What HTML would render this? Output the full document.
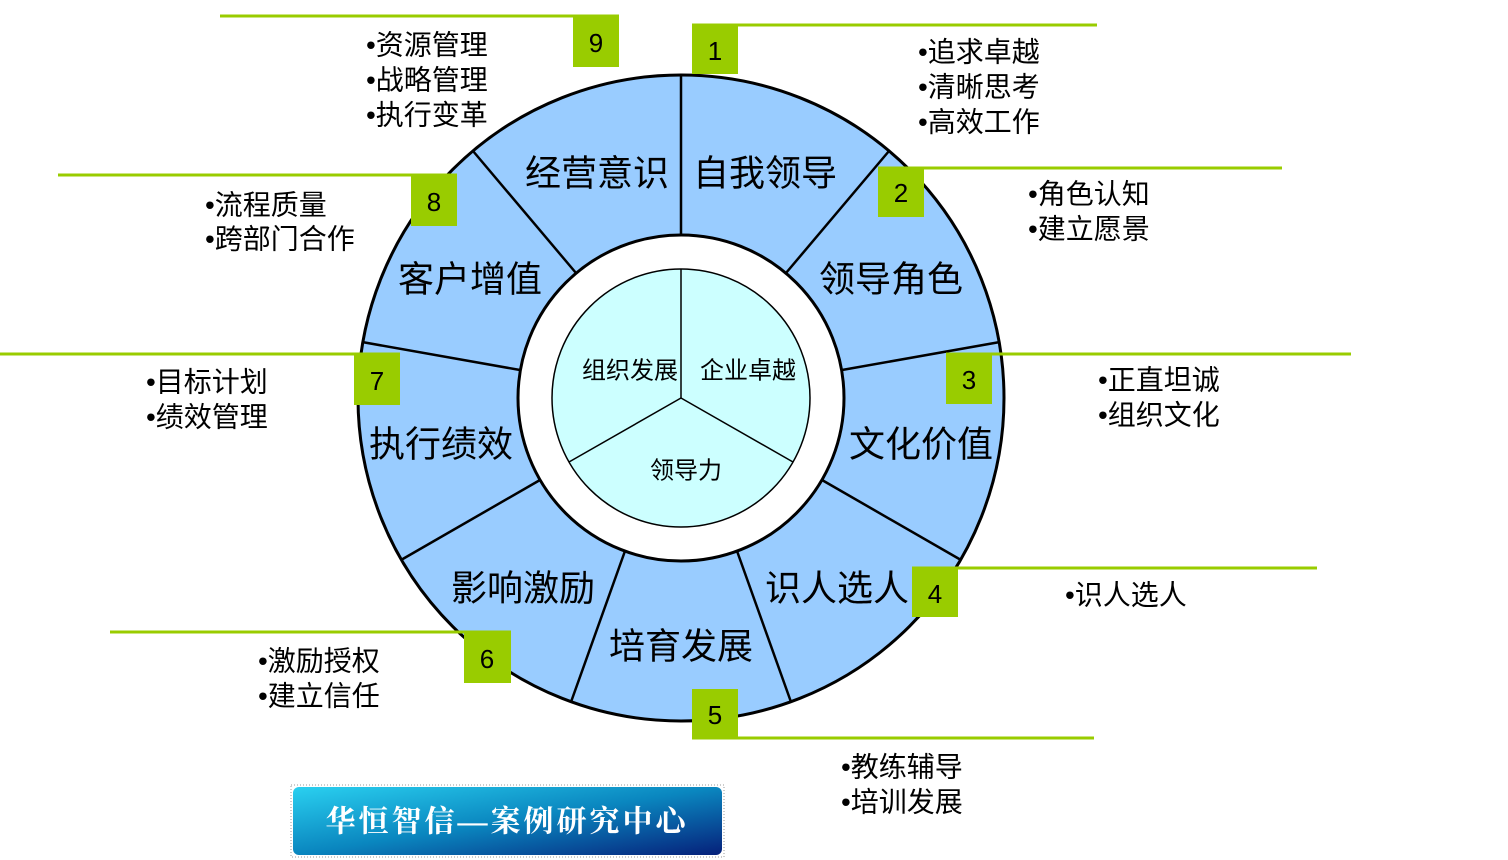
<!DOCTYPE html>
<html><head><meta charset="utf-8"><style>
html,body{margin:0;padding:0;background:#fff;}
svg{display:block;}
text{font-family:"Liberation Sans","Noto Sans CJK SC",sans-serif;fill:#000;}
</style></head><body>
<svg width="1508" height="860" viewBox="0 0 1508 860">
<defs>
<linearGradient id="bg" x1="0" y1="0" x2="1" y2="1">
<stop offset="0" stop-color="#2ad0f0"/><stop offset="0.5" stop-color="#0a86bf"/><stop offset="1" stop-color="#06207a"/>
</linearGradient>
</defs>
<circle cx="681" cy="398" r="323" fill="#99ccff" stroke="#000" stroke-width="3"/>
<circle cx="681" cy="398" r="163" fill="#fff" stroke="#000" stroke-width="3"/>
<circle cx="681" cy="398" r="129" fill="#ccffff" stroke="#000" stroke-width="1.5"/>
<g stroke="#000" stroke-width="2.5">
<line x1="681" y1="235" x2="681" y2="75"/>
<line x1="786" y1="273" x2="889" y2="151"/>
<line x1="842" y1="370" x2="1000" y2="342"/>
<line x1="822" y1="480" x2="961" y2="560"/>
<line x1="737" y1="551" x2="791" y2="702"/>
<line x1="625" y1="551" x2="571" y2="702"/>
<line x1="540" y1="480" x2="401" y2="560"/>
<line x1="520" y1="370" x2="362" y2="342"/>
<line x1="576" y1="273" x2="473" y2="151"/>
</g>
<g stroke="#000" stroke-width="1.5">
<line x1="681" y1="398" x2="681" y2="269"/>
<line x1="681" y1="398" x2="793" y2="462"/>
<line x1="681" y1="398" x2="569" y2="462"/>
</g>
<g font-size="36" text-anchor="middle" dominant-baseline="central">
<text x="765" y="173">自我领导</text>
<text x="597" y="173">经营意识</text>
<text x="891" y="279">领导角色</text>
<text x="470" y="279">客户增值</text>
<text x="921" y="444">文化价值</text>
<text x="441" y="444">执行绩效</text>
<text x="837" y="588">识人选人</text>
<text x="523" y="588">影响激励</text>
<text x="681" y="646">培育发展</text>
</g>
<g font-size="24" text-anchor="middle" dominant-baseline="central">
<text x="630" y="371">组织发展</text>
<text x="748" y="371">企业卓越</text>
<text x="686" y="471">领导力</text>
</g>
<g stroke="#99cc00" stroke-width="3">
<line x1="220" y1="16" x2="619" y2="16"/>
<line x1="692" y1="25" x2="1097" y2="25"/>
<line x1="878" y1="168" x2="1282" y2="168"/>
<line x1="946" y1="354" x2="1351" y2="354"/>
<line x1="912" y1="568" x2="1317" y2="568"/>
<line x1="692" y1="738" x2="1094" y2="738"/>
<line x1="110" y1="632" x2="511" y2="632"/>
<line x1="0" y1="354" x2="400" y2="354"/>
<line x1="58" y1="175" x2="457" y2="175"/>
</g>
<g fill="#99cc00">
<rect x="573" y="16" width="46" height="51"/>
<rect x="692" y="25" width="46" height="49"/>
<rect x="878" y="168" width="46" height="49"/>
<rect x="946" y="354" width="46" height="50"/>
<rect x="912" y="568" width="46" height="49"/>
<rect x="692" y="689" width="46" height="49"/>
<rect x="464" y="632" width="47" height="51"/>
<rect x="354" y="354" width="46" height="51"/>
<rect x="411" y="175" width="46" height="51"/>
</g>
<g font-size="26" text-anchor="middle" dominant-baseline="central">
<text x="596" y="43">9</text>
<text x="715" y="51">1</text>
<text x="901" y="193">2</text>
<text x="969" y="380">3</text>
<text x="935" y="594">4</text>
<text x="715" y="715">5</text>
<text x="487" y="659">6</text>
<text x="377" y="381">7</text>
<text x="434" y="202">8</text>
</g>
<g font-size="28" dominant-baseline="central">
<text x="366" y="45">•资源管理</text>
<text x="366" y="80">•战略管理</text>
<text x="366" y="115">•执行变革</text>
<text x="918" y="52">•追求卓越</text>
<text x="918" y="87">•清晰思考</text>
<text x="918" y="122">•高效工作</text>
<text x="1028" y="194">•角色认知</text>
<text x="1028" y="229">•建立愿景</text>
<text x="205" y="205">•流程质量</text>
<text x="205" y="239">•跨部门合作</text>
<text x="146" y="382">•目标计划</text>
<text x="146" y="417">•绩效管理</text>
<text x="1098" y="380">•正直坦诚</text>
<text x="1098" y="415">•组织文化</text>
<text x="1065" y="595">•识人选人</text>
<text x="258" y="661">•激励授权</text>
<text x="258" y="696">•建立信任</text>
<text x="841" y="767">•教练辅导</text>
<text x="841" y="802">•培训发展</text>
</g>
<rect x="291" y="785" width="433" height="72" fill="none" stroke="#999" stroke-width="1" stroke-dasharray="1,2"/>
<rect x="293" y="787" width="429" height="68" rx="6" fill="url(#bg)"/>
<text x="507" y="822" font-size="30" font-weight="bold" text-anchor="middle" dominant-baseline="central" letter-spacing="3" style="fill:#fff;font-family:'Liberation Serif','Noto Serif CJK SC',serif">华恒智信—案例研究中心</text>
</svg>
</body></html>
